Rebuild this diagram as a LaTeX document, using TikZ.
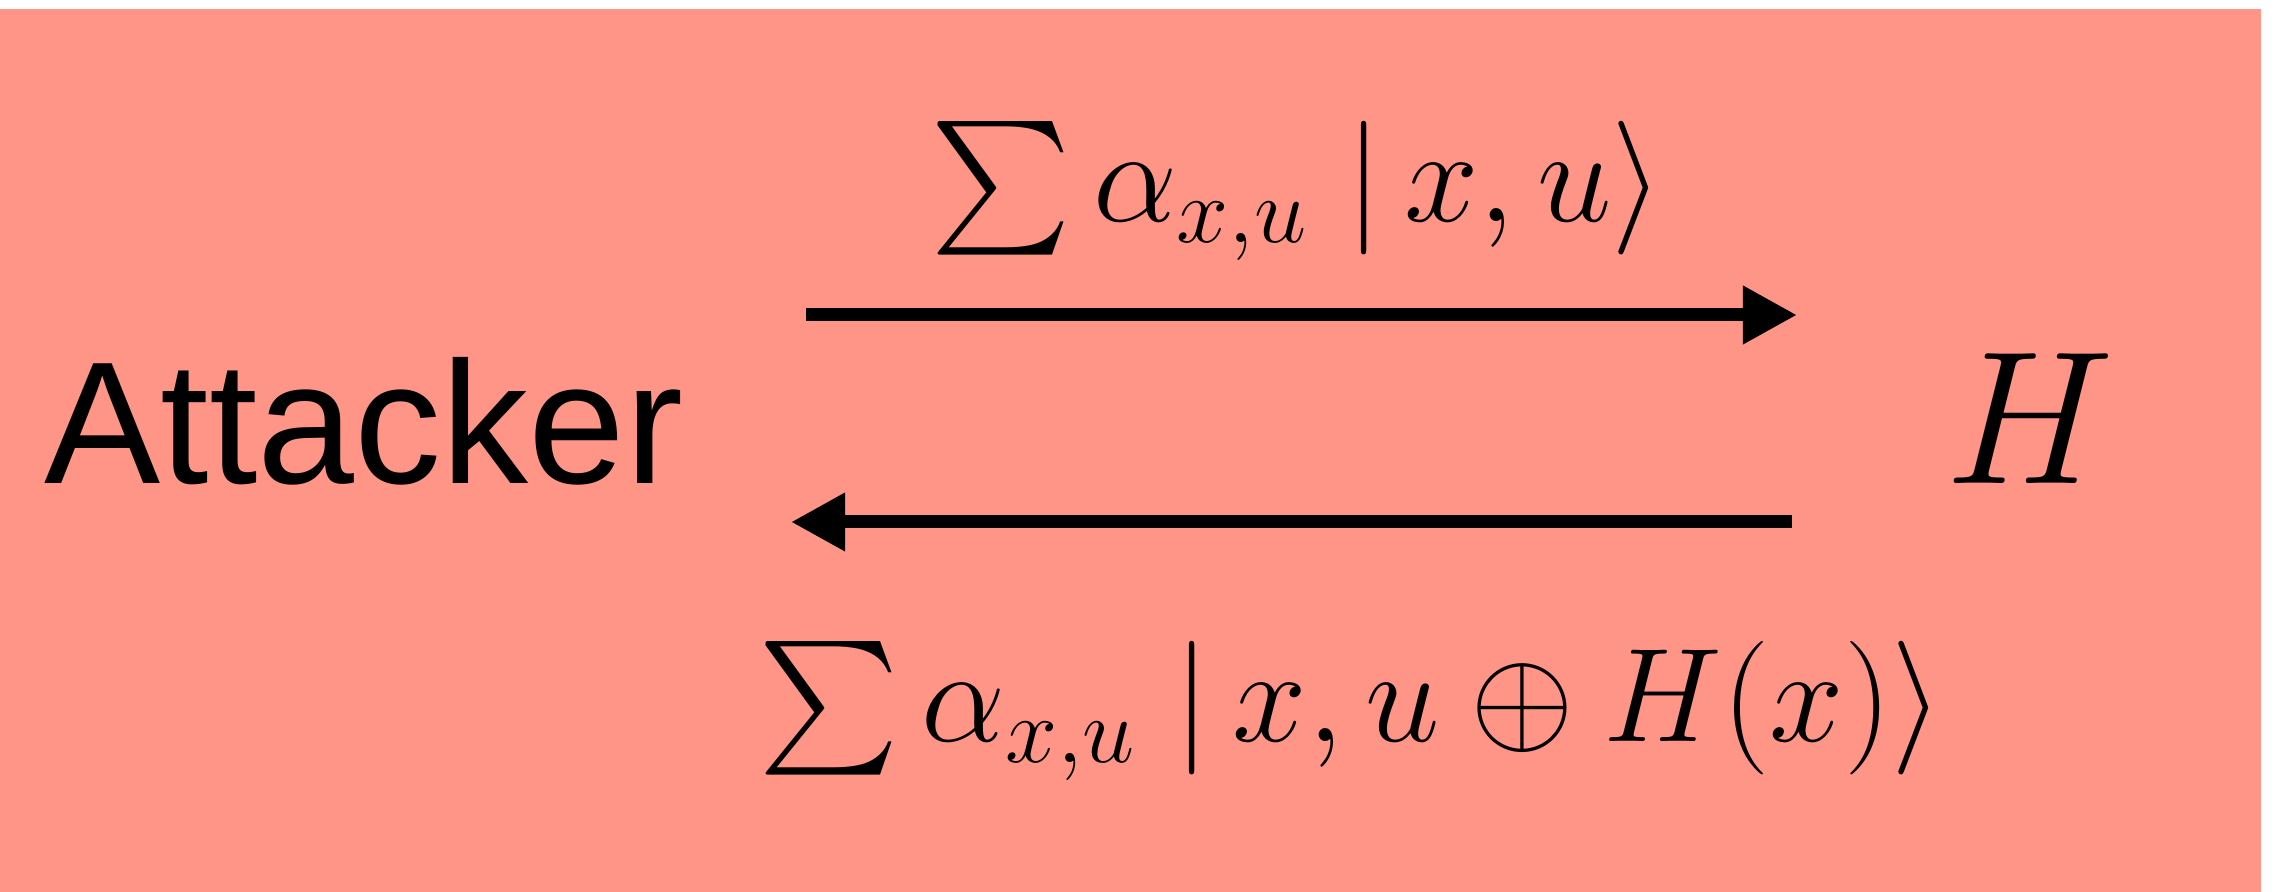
\RequirePackage{fix-cm}
\documentclass[tikz,border=0pt]{standalone}
\usepackage{fontspec}
\usepackage{amsmath}
\DeclareFontShape{OMX}{cmex}{m}{n}{<->cmex10}{}
\newfontfamily\helv{Liberation Sans}
\usetikzlibrary{arrows.meta,positioning}
\DeclareMathSizes{38}{38}{26.6}{19}
\DeclareMathSizes{54}{54}{37.8}{27}
\definecolor{salmonbg}{HTML}{FF9587}
\definecolor{ink}{HTML}{000000}
\tikzset{
  msgarr/.style={-{Triangle[length=0.54cm,width=0.55cm]},line width=0.13cm,color=ink},
  party/.style={inner sep=0pt,font=\helv\fontsize{49.5}{54}\selectfont},
  oracle/.style={inner sep=0pt,font=\fontsize{54}{58}\selectfont},
  msglabel/.style={inner sep=0pt,font=\fontsize{38}{42}\selectfont}
}
\begin{document}
\begin{tikzpicture}[x=0.01cm,y=-0.01cm]
  \useasboundingbox (0,0) rectangle (2285,892);
  \fill[salmonbg] (0,9) rectangle (2261,892);

  \node[party,anchor=base west] (att) at (44,484) {Attacker};
  \node[oracle,anchor=base] (orc) at (2030,484) {$H$};

  \coordinate (qs) at (806,315);  \coordinate (qe) at (1797,315);
  \coordinate (rs) at (1792,522); \coordinate (re) at (791,522);
  \draw[msgarr] (qs) -- (qe);
  \draw[msgarr] (rs) -- (re);

  \node[msglabel,anchor=base] (qry) at (1297,222)
    {$\sum \alpha_{x,u}\;|\,x,u\rangle$};
  \node[msglabel,anchor=base] (rsp) at (1351,742)
    {$\sum \alpha_{x,u}\;|\,x,u\oplus H(x)\rangle$};
\end{tikzpicture}
\end{document}
